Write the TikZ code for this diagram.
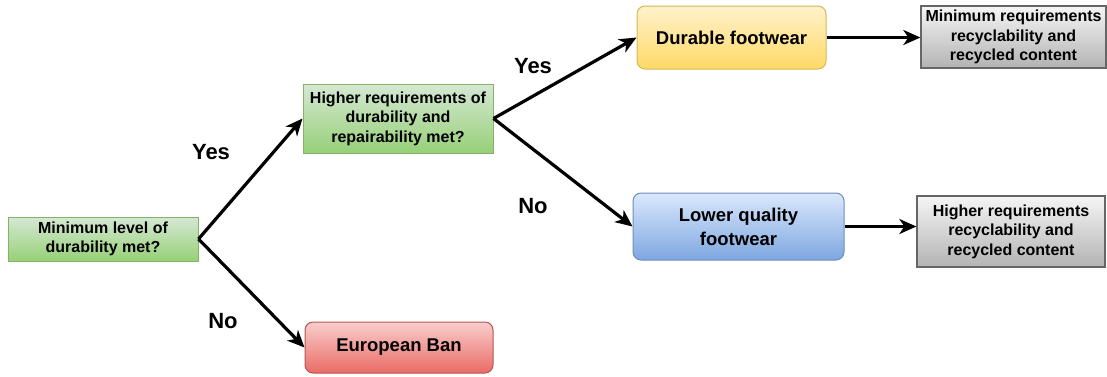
\documentclass[tikz,border=0pt]{standalone}
\usepackage{fontspec}
\setmainfont{Liberation Sans}
\usetikzlibrary{arrows.meta}
\definecolor{gtop}{HTML}{D5E8D4}\definecolor{gbot}{HTML}{97D077}\definecolor{gline}{HTML}{82B366}
\definecolor{ytop}{HTML}{FFF2CC}\definecolor{ybot}{HTML}{FFD966}\definecolor{yline}{HTML}{D6B656}
\definecolor{btop}{HTML}{DAE8FC}\definecolor{bbot}{HTML}{7EA6E0}\definecolor{bline}{HTML}{6C8EBF}
\definecolor{rtop}{HTML}{F8CECC}\definecolor{rbot}{HTML}{EA6B66}\definecolor{rline}{HTML}{B85450}
\definecolor{ktop}{HTML}{F5F5F5}\definecolor{kbot}{HTML}{B3B3B3}\definecolor{kline}{HTML}{666666}
\tikzset{
  box/.style={draw, line width=1pt, inner sep=0pt, align=center, font=\fontsize{16}{19.5}\selectfont\bfseries},
  greenbox/.style={box, draw=gline, top color=gtop, bottom color=gbot},
  yellowbox/.style={box, draw=yline, top color=ytop, bottom color=ybot, rounded corners=8pt, font=\fontsize{18.5}{22}\selectfont\bfseries},
  bluebox/.style={box, draw=bline, top color=btop, bottom color=bbot, rounded corners=8pt, font=\fontsize{18.5}{24}\selectfont\bfseries},
  redbox/.style={box, draw=rline, top color=rtop, bottom color=rbot, rounded corners=8pt, font=\fontsize{18.5}{22}\selectfont\bfseries},
  graybox/.style={box, draw=kline, line width=1.3pt, top color=ktop, bottom color=kbot},
  arr/.style={line width=3.2pt, -{Stealth[length=17pt,width=15pt,inset=5pt]}},
  lbl/.style={font=\fontsize{22}{24}\selectfont\bfseries}
}
\begin{document}
\begin{tikzpicture}[x=1pt,y=-1pt]
\useasboundingbox (0,0) rectangle (1107,376);
\node[greenbox, minimum width=190pt, minimum height=44pt] (min) at (103,239) {Minimum level of\\durability met?};
\node[greenbox, minimum width=190pt, minimum height=69pt] (high) at (398,118.5) {Higher requirements of\\durability and\\repairability met?};
\node[yellowbox, minimum width=189pt, minimum height=63pt] (dur) at (731.5,37.5) {Durable footwear};
\node[graybox, minimum width=185pt, minimum height=62pt] (minreq) at (1013.5,37) {Minimum requirements\\recyclability and\\recycled content};
\node[bluebox, minimum width=211pt, minimum height=67pt] (low) at (738.5,226.5) {Lower quality\\footwear};
\node[graybox, minimum width=188pt, minimum height=71pt] (highreq) at (1011,231.5) {Higher requirements\\recyclability and\\recycled content};
\node[redbox, minimum width=188pt, minimum height=51pt] (ban) at (399,347.5) {European Ban};
\draw[arr] (min.east) -- (high.west);
\draw[arr] (min.east) -- (ban.west);
\draw[arr] (high.east) -- (dur.west);
\draw[arr] (high.east) -- (low.west);
\draw[arr] (dur.east) -- (dur.east -| minreq.west);
\draw[arr] (low.east) -- (low.east -| highreq.west);
\node[lbl] (y1) at (211,152) {Yes};
\node[lbl] (n1) at (223,321) {No};
\node[lbl] (y2) at (533,66) {Yes};
\node[lbl] (n2) at (533,206) {No};
\end{tikzpicture}
\end{document}
